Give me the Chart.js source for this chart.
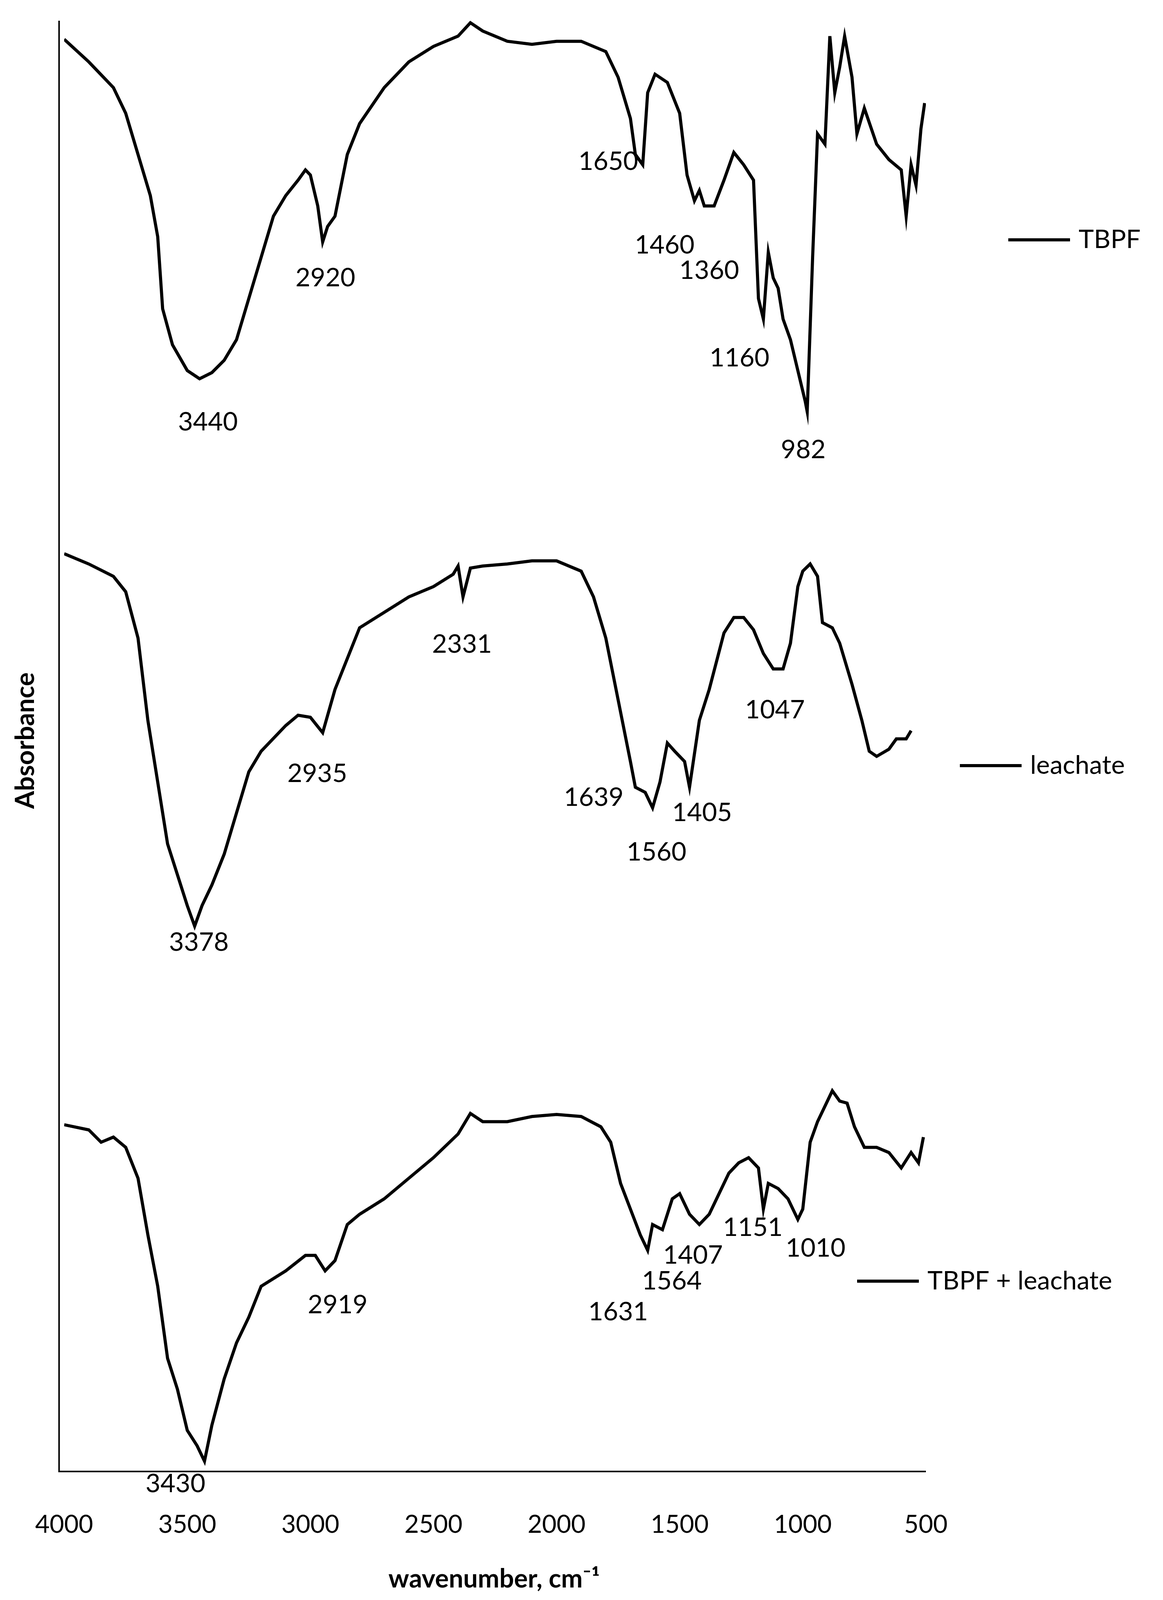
<!DOCTYPE html>
<html>
<head>
<meta charset="utf-8">
<script src="https://cdn.jsdelivr.net/npm/chart.js@4/dist/chart.umd.min.js"></script>
<style>
  body { margin: 0; background: #fff; }
  canvas { display: block; }
</style>
</head>
<body>
<canvas id="ftirChart" width="2977" height="4136"></canvas>
<script>
// wavenumbers (cm-1) and absorbance (arbitrary units, spectra stacked)
const tbpfWave = [4000,3900,3800,3750,3700,3650,3620,3600,3560,3500,3450,3400,3350,3300,3250,3200,3150,3100,3050,3020,3000,2970,2950,2930,2900,2850,2800,2700,2600,2500,2400,2350,2300,2200,2100,2000,1900,1800,1750,1700,1680,1650,1630,1600,1550,1500,1470,1440,1420,1400,1360,1320,1280,1240,1200,1180,1160,1140,1120,1100,1080,1050,1020,990,982,960,940,910,890,870,850,830,800,780,750,700,650,600,580,560,540,520,505];
const tbpfAbs = [13.92,13.70,13.45,13.20,12.80,12.40,12.00,11.30,10.95,10.70,10.62,10.68,10.80,11.00,11.40,11.80,12.20,12.40,12.55,12.65,12.60,12.30,11.95,12.10,12.20,12.80,13.10,13.45,13.70,13.85,13.95,14.08,14.00,13.90,13.87,13.90,13.90,13.80,13.55,13.15,12.80,12.70,13.40,13.58,13.50,13.20,12.60,12.35,12.45,12.30,12.30,12.55,12.82,12.70,12.55,11.40,11.20,11.85,11.60,11.50,11.20,11.00,10.70,10.40,10.30,11.80,13.00,12.90,13.95,13.40,13.65,13.95,13.55,13.00,13.25,12.90,12.75,12.65,12.20,12.70,12.50,13.05,13.30];

const leachWave = [4000,3900,3800,3750,3700,3660,3620,3580,3540,3500,3470,3440,3400,3350,3300,3250,3200,3100,3050,3000,2950,2900,2850,2800,2700,2600,2500,2420,2400,2380,2350,2300,2200,2100,2000,1900,1850,1800,1750,1700,1680,1640,1610,1580,1550,1520,1480,1460,1420,1380,1320,1280,1240,1200,1160,1120,1080,1050,1020,1000,970,940,920,880,850,800,760,730,700,650,620,580,560];
const leachAbs = [8.92,8.82,8.70,8.55,8.10,7.30,6.70,6.10,5.80,5.50,5.30,5.50,5.70,6.00,6.40,6.80,7.00,7.25,7.35,7.33,7.18,7.60,7.90,8.20,8.35,8.50,8.60,8.72,8.80,8.50,8.78,8.80,8.82,8.85,8.85,8.75,8.50,8.10,7.50,6.90,6.65,6.60,6.45,6.70,7.08,7.00,6.90,6.65,7.30,7.60,8.15,8.30,8.30,8.18,7.95,7.80,7.80,8.05,8.60,8.75,8.82,8.70,8.25,8.20,8.05,7.65,7.30,7.00,6.95,7.02,7.12,7.12,7.20];

const mixWave = [4000,3900,3850,3800,3750,3700,3660,3620,3580,3540,3500,3460,3430,3400,3350,3300,3250,3200,3100,3020,2980,2940,2900,2850,2800,2700,2600,2500,2400,2350,2300,2200,2100,2000,1900,1820,1780,1740,1700,1660,1630,1610,1570,1530,1500,1460,1420,1380,1340,1300,1260,1220,1180,1160,1140,1100,1060,1020,1000,970,940,910,880,850,820,790,750,700,650,600,560,530,510];
const mixAbs = [3.37,3.32,3.20,3.25,3.15,2.85,2.30,1.80,1.10,0.80,0.40,0.25,0.10,0.45,0.90,1.25,1.50,1.80,1.95,2.10,2.10,1.95,2.05,2.40,2.50,2.65,2.85,3.05,3.28,3.48,3.40,3.40,3.45,3.47,3.45,3.35,3.20,2.80,2.55,2.30,2.15,2.40,2.35,2.65,2.70,2.50,2.40,2.50,2.70,2.90,3.00,3.05,2.95,2.55,2.80,2.75,2.65,2.45,2.55,3.20,3.40,3.55,3.70,3.60,3.58,3.35,3.15,3.15,3.10,2.95,3.10,3.00,3.25];

// peak annotations: text, wavenumber, absorbance position of the label
const peakText = ['3440','2920','1650','1460','1360','1160','982','3378','2935','2331','1639','1560','1405','1047','3430','2919','1631','1564','1407','1151','1010'];
const peakWave = [3416,2939,1790,1561,1380,1257,998,3453,2972,2384,1849,1594,1409,1113,3548,2889,1750,1532,1446,1203,948];
const peakAbs = [10.20,11.60,12.73,11.92,11.67,10.82,9.93,5.14,6.78,8.04,6.55,6.02,6.40,7.40,-0.12,1.62,1.55,1.85,2.10,2.37,2.17];

const seriesNames = ['TBPF', 'leachate', 'TBPF + leachate'];
const legendAbs = [11.97, 6.86, 1.85];
const xTicks = [4000, 3500, 3000, 2500, 2000, 1500, 1000, 500];

const FONT = 'Lato, "Open Sans", sans-serif';
const toPoints = (w, a) => w.map((x, i) => ({ x: x, y: a[i] }));

const overlay = {
  id: 'overlay',
  afterDraw(chart) {
    const { ctx, chartArea, scales } = chart;
    const x = scales.x, y = scales.y;
    ctx.save();
    // y axis line, a little left of the 4000 position
    const axisX = x.getPixelForValue(4000) - 13;
    ctx.strokeStyle = '#000';
    ctx.lineWidth = 4;
    ctx.beginPath();
    ctx.moveTo(axisX, chartArea.top);
    ctx.lineTo(axisX, chartArea.bottom);
    ctx.lineTo(chartArea.right, chartArea.bottom);
    ctx.stroke();
    ctx.fillStyle = '#000';
    ctx.textAlign = 'center';
    ctx.textBaseline = 'middle';
    ctx.font = '66px ' + FONT;
    peakText.forEach((t, i) => {
      ctx.fillText(t, x.getPixelForValue(peakWave[i]), y.getPixelForValue(peakAbs[i]));
    });
    // legend entries
    const legendX = [2581, 2457, 2194];
    seriesNames.forEach((n, i) => {
      const py = y.getPixelForValue(legendAbs[i]);
      ctx.lineWidth = 8;
      ctx.beginPath();
      ctx.moveTo(legendX[i], py);
      ctx.lineTo(legendX[i] + 158, py);
      ctx.stroke();
      ctx.textAlign = 'left';
      ctx.fillText(n, legendX[i] + 180, py);
    });
    // axis titles
    ctx.font = 'bold 66px ' + FONT;
    ctx.textAlign = 'center';
    ctx.fillText('wavenumber, cm\u207B\u00B9', 1265, 4043);
    ctx.translate(66, 1896);
    ctx.rotate(-Math.PI / 2);
    ctx.fillText('Absorbance', 0, 0);
    ctx.restore();
  }
};

const mkSet = (w, a) => ({
  data: toPoints(w, a),
  borderColor: '#000',
  borderWidth: 8,
  pointRadius: 0,
  tension: 0,
  fill: false
});

new Chart(document.getElementById('ftirChart'), {
  type: 'line',
  data: { datasets: [mkSet(tbpfWave, tbpfAbs), mkSet(leachWave, leachAbs), mkSet(mixWave, mixAbs)] },
  options: {
    responsive: false,
    animation: false,
    devicePixelRatio: 1,
    layout: { padding: { left: 28, right: 607, top: 53, bottom: 0 } },
    plugins: { legend: { display: false }, tooltip: { enabled: false } },
    scales: {
      x: {
        type: 'linear',
        reverse: true,
        min: 500,
        max: 4000,
        afterFit: s => { s.height = 369; },
        afterBuildTicks: s => { s.ticks = xTicks.map(v => ({ value: v })); },
        grid: { display: false },
        border: { display: false },
        ticks: { color: '#000', padding: 90, font: { size: 64, family: FONT }, maxRotation: 0, callback: v => String(v) }
      },
      y: {
        display: false,
        min: 0,
        max: 14.1
      }
    }
  },
  plugins: [overlay]
});
</script>
</body>
</html>
